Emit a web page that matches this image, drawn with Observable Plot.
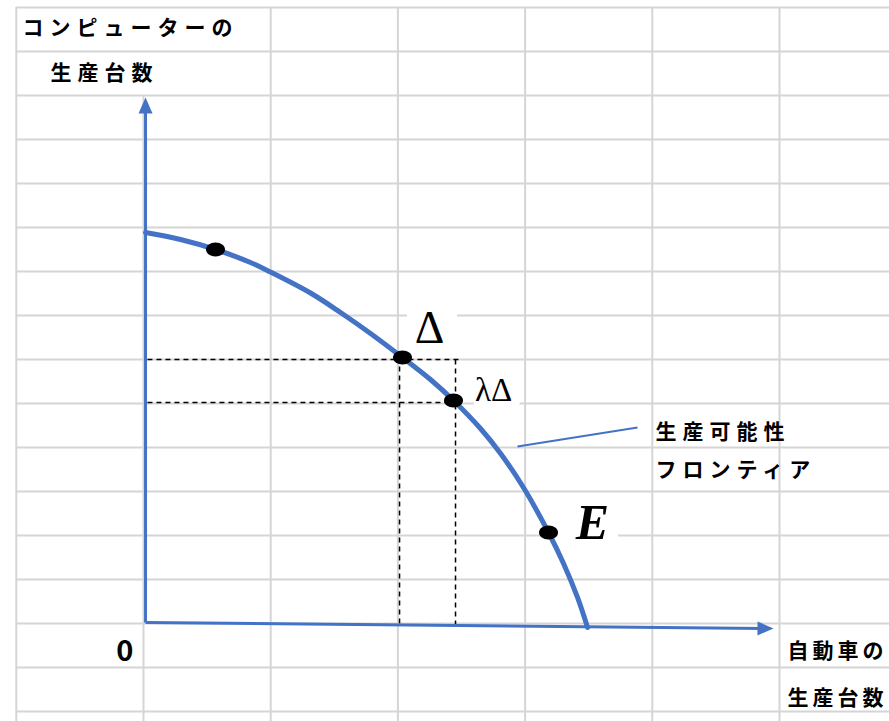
<!DOCTYPE html>
<html>
<head>
<meta charset="utf-8">
<script src="https://cdn.jsdelivr.net/npm/d3@7"></script>
<script src="https://cdn.jsdelivr.net/npm/@observablehq/plot@0.6"></script>
<style>
html, body { margin: 0; padding: 0; background: #fff; }
#chart svg { display: block; }
g[aria-description="jp-label"] text { letter-spacing: 6px; }
g[aria-description="jp-label-edge"] text { letter-spacing: 4px; }
</style>
</head>
<body>
<div id="chart"></div>
<script>
// ---- data (spreadsheet-cell units: 1 column x, 1 row y) ----
const gridCols = [-1, 0, 1, 2, 3, 4, 5];
const gridColTop = [14, 12, 14, 14, 14, 14, 14];
const gridRows = [-2, -1, 0, 1, 2, 3, 4, 5, 6, 7, 8, 9, 10, 11, 12, 13, 14];

// production possibility frontier
const frontierX = [0.016, 0.291, 0.566, 0.841, 0.998, 1.313, 1.549, 1.785, 2.036, 2.256, 2.437, 2.649, 2.807, 2.987, 3.184, 3.302, 3.412, 3.491];
const frontierY = [8.886, 8.727, 8.500, 8.205, 7.989, 7.511, 7.068, 6.591, 6.045, 5.545, 5.068, 4.432, 3.864, 3.091, 2.068, 1.364, 0.591, -0.091];

// marked points on the frontier
const pointX = [0.566, 2.036, 2.437, 3.184];
const pointY = [8.5, 6.045, 5.068, 2.068];

// dashed guide lines
const guideX1 = [0.031, 0.031, 2.013, 2.453];
const guideY1 = [6.0, 5.023, 6.045, 6.0];
const guideX2 = [2.476, 2.437, 2.013, 2.453];
const guideY2 = [6.0, 5.023, 0.0, -0.045];

// axes
const axisX1 = [0.016, 0.016];
const axisY1 = [0.023, 0.023];
const axisX2 = [0.016, 4.90];
const axisY2 = [11.8, -0.113];
const arrowX = [0.016, 4.882];
const arrowY = [11.75, -0.113];
const arrowRotate = [0, 90.5];

// callout line to the frontier label
const calloutX1 = [2.94], calloutY1 = [4.023], calloutX2 = [3.884], calloutY2 = [4.455];

// white label boxes hiding grid lines behind labels
const boxX1 = [2.075, 2.60, 3.263];
const boxX2 = [2.468, 2.96, 3.734];
const boxY1 = [6.2, 4.85, 1.75];
const boxY2 = [7.3, 5.6, 2.85];

// labels
const jpText = ["コンピューターの", "生産台数", "生産可能性", "フロンティア"];
const jpX = [-0.951, -0.731, 4.025, 4.025];
const jpY = [13.523, 12.5, 4.34, 3.477];
const jpEdgeText = ["自動車の", "生産台数"];
const jpEdgeX = [5.063, 5.063];
const jpEdgeY = [-0.636, -1.705];
const zeroLabel = ["0"], zeroX = [-0.079], zeroY = [-0.636];
const deltaLabel = ["Δ"], deltaX = [2.248], deltaY = [6.705];
const lambdaLabel = ["λΔ"], lambdaX = [2.752], lambdaY = [5.295];
const eLabel = ["E"], eX = [3.53], eY = [2.273];

// ---- build tables ----
const idx = n => d3.range(n);
const frontier = frontierX.map((x, i) => ({x, y: frontierY[i]}));
const blue = "#4472C4";
const gridColor = "#d5d5d5";

const ellipse = {
  draw(ctx) {
    const rx = 9.5, ry = 7, k = 0.5523;
    ctx.moveTo(rx, 0);
    ctx.bezierCurveTo(rx, ry * k, rx * k, ry, 0, ry);
    ctx.bezierCurveTo(-rx * k, ry, -rx, ry * k, -rx, 0);
    ctx.bezierCurveTo(-rx, -ry * k, -rx * k, -ry, 0, -ry);
    ctx.bezierCurveTo(rx * k, -ry, rx, -ry * k, rx, 0);
    ctx.closePath();
  }
};
const arrowHead = {
  draw(ctx) {
    ctx.moveTo(0, -9);
    ctx.lineTo(7, 7);
    ctx.lineTo(-7, 7);
    ctx.closePath();
  }
};

const jpFont = "'Noto Sans CJK JP', 'Noto Sans', sans-serif";
const serif = "'Liberation Serif', 'DejaVu Serif', serif";

const chart = Plot.plot({
  width: 889,
  height: 721,
  marginTop: 0, marginRight: 0, marginBottom: 0, marginLeft: 0,
  x: {domain: [-143 / 127.2, 746 / 127.2], axis: null},
  y: {domain: [-98 / 44, 623 / 44], axis: null},
  style: {background: "#fff"},
  marks: [
    // spreadsheet grid
    Plot.ruleX(idx(gridCols.length), {x: i => gridCols[i], y1: -3, y2: i => gridColTop[i], stroke: gridColor, strokeWidth: 2}),
    Plot.ruleY(idx(gridRows.length), {y: i => gridRows[i], x1: -1, x2: 7, stroke: gridColor, strokeWidth: 2}),
    // label boxes
    Plot.rect(idx(boxX1.length), {x1: i => boxX1[i], x2: i => boxX2[i], y1: i => boxY1[i], y2: i => boxY2[i], fill: "#fff"}),
    // dashed guides
    Plot.link(idx(guideX1.length), {x1: i => guideX1[i], y1: i => guideY1[i], x2: i => guideX2[i], y2: i => guideY2[i], stroke: "#000", strokeWidth: 1.5, strokeDasharray: "5,4"}),
    // axes
    Plot.link(idx(axisX1.length), {x1: i => axisX1[i], y1: i => axisY1[i], x2: i => axisX2[i], y2: i => axisY2[i], stroke: blue, strokeWidth: 3}),
    Plot.dot(idx(arrowX.length), {x: i => arrowX[i], y: i => arrowY[i], rotate: i => arrowRotate[i], symbol: arrowHead, fill: blue, stroke: "none"}),
    // callout
    Plot.link(idx(1), {x1: i => calloutX1[i], y1: i => calloutY1[i], x2: i => calloutX2[i], y2: i => calloutY2[i], stroke: blue, strokeWidth: 2}),
    // frontier
    Plot.line(frontier, {x: "x", y: "y", curve: "catmull-rom", stroke: blue, strokeWidth: 5}),
    // points
    Plot.dot(idx(pointX.length), {x: i => pointX[i], y: i => pointY[i], symbol: ellipse, fill: "#000", stroke: "none"}),
    // Japanese labels
    Plot.text(idx(jpText.length), {x: i => jpX[i], y: i => jpY[i], text: i => jpText[i], textAnchor: "start", fontSize: 21, fontWeight: "bold", fontFamily: jpFont, fill: "#000", ariaDescription: "jp-label"}),
    Plot.text(idx(jpEdgeText.length), {x: i => jpEdgeX[i], y: i => jpEdgeY[i], text: i => jpEdgeText[i], textAnchor: "start", fontSize: 21, fontWeight: "bold", fontFamily: jpFont, fill: "#000", ariaDescription: "jp-label-edge"}),
    Plot.text(idx(1), {x: i => zeroX[i], y: i => zeroY[i], text: i => zeroLabel[i], textAnchor: "end", fontSize: 29, fontWeight: "bold", fontFamily: jpFont, fill: "#000"}),
    Plot.text(idx(1), {x: i => deltaX[i], y: i => deltaY[i], text: i => deltaLabel[i], fontSize: 46, fontFamily: serif, fill: "#000"}),
    Plot.text(idx(1), {x: i => lambdaX[i], y: i => lambdaY[i], text: i => lambdaLabel[i], fontSize: 33, fontFamily: serif, fill: "#000"}),
    Plot.text(idx(1), {x: i => eX[i], y: i => eY[i], text: i => eLabel[i], fontSize: 50, fontWeight: "bold", fontStyle: "italic", fontFamily: serif, fill: "#000"})
  ]
});
document.getElementById("chart").appendChild(chart);
</script>
</body>
</html>
